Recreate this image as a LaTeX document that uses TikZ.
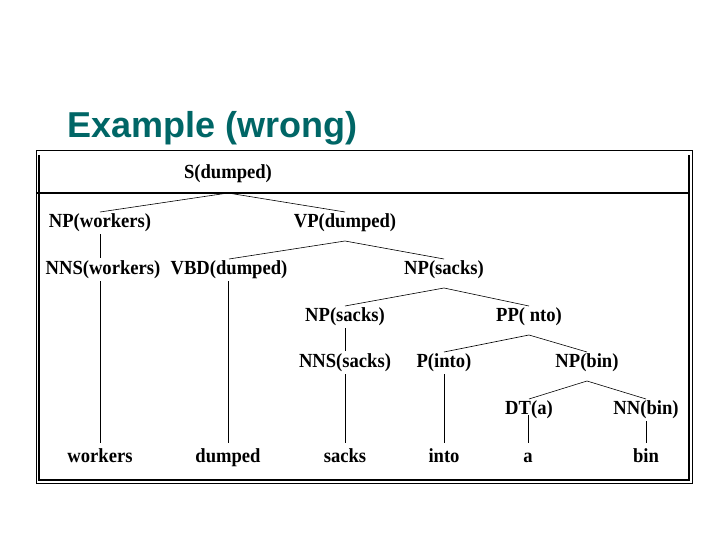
\documentclass[tikz,border=0pt]{standalone}
\usepackage{fontspec}
\setmainfont{Liberation Serif}
\newfontfamily\treefont[FakeStretch=0.93]{Liberation Serif Bold}
\newfontfamily\titlefont{Liberation Sans}
\usetikzlibrary{calc}
\definecolor{titleteal}{RGB}{0,102,102}
\begin{document}
\begin{tikzpicture}[x=1pt,y=-1pt,
  lab/.style={font=\treefont\fontsize{20}{24}\selectfont, inner sep=0pt, anchor=base},
  edge/.style={line width=0.6pt},
  thinframe/.style={line width=0.9pt},
  thickframe/.style={line width=2.2pt}]
\useasboundingbox (0,0) rectangle (720,540);
\node[font=\titlefont\bfseries\fontsize{36}{40}\selectfont, text=titleteal, anchor=base west, inner sep=0pt] (title) at (67,138) {Example (wrong)};
% frame
\draw[thinframe] (36,150.5) rectangle (692,483);
\draw[thickframe] (39,155) -- (39,480) -- (689,480) -- (689,155);
\draw[thickframe] (36,193) -- (688,193);
% nodes
\node[lab] (S) at (228,179) {S(dumped)};
\node[lab] (NPw) at (100,227) {NP(workers)};
\node[lab] (VP) at (345,227) {VP(dumped)};
\node[lab] (NNSw) at (103,274) {NNS(workers)};
\node[lab] (VBD) at (229,274) {VBD(dumped)};
\node[lab] (NPs) at (444,274) {NP(sacks)};
\node[lab] (NPs2) at (345,321) {NP(sacks)};
\node[lab] (PP) at (529,321) {PP( nto)};
\node[lab] (NNSs) at (345,367) {NNS(sacks)};
\node[lab] (Pin) at (444,367) {P(into)};
\node[lab] (NPb) at (587,367) {NP(bin)};
\node[lab] (DT) at (529,414) {DT(a)};
\node[lab] (NN) at (646,414) {NN(bin)};
\node[lab] (w1) at (100,462) {workers};
\node[lab] (w2) at (228,462) {dumped};
\node[lab] (w3) at (345,462) {sacks};
\node[lab] (w4) at (444,462) {into};
\node[lab] (w5) at (528,462) {a};
\node[lab] (w6) at (646,462) {bin};
% branching edges
\draw[edge] ($(NPw.base)+(0,-15)$) -- ($(S.base)+(0,14)$) -- ($(VP.base)+(0,-15)$);
\draw[edge] ($(VBD.base)+(0,-15)$) -- ($(VP.base)+(0,14)$) -- ($(NPs.base)+(0,-15)$);
\draw[edge] ($(NPs2.base)+(0,-15)$) -- ($(NPs.base)+(0,14)$) -- ($(PP.base)+(0,-15)$);
\draw[edge] ($(Pin.base)+(0,-15)$) -- ($(PP.base)+(0,14)$) -- ($(NPb.base)+(0,-15)$);
\draw[edge] ($(DT.base)+(0,-15)$) -- ($(NPb.base)+(0,14)$) -- ($(NN.base)+(0,-15)$);
% unary edges
\draw[edge] ($(NPw.base)+(0,7)$) -- ($(NNSw.base)+(-3,-16)$);
\draw[edge] ($(NNSw.base)+(-3,7)$) -- ($(w1.base)+(0,-19)$);
\draw[edge] ($(VBD.base)+(-1,7)$) -- ($(w2.base)+(0,-19)$);
\draw[edge] ($(NPs2.base)+(0,7)$) -- ($(NNSs.base)+(0,-16)$);
\draw[edge] ($(NNSs.base)+(0,7)$) -- ($(w3.base)+(0,-19)$);
\draw[edge] ($(Pin.base)+(0,7)$) -- ($(w4.base)+(0,-19)$);
\draw[edge] ($(DT.base)+(-1,1)$) -- ($(w5.base)+(0,-19)$);
\draw[edge] ($(NN.base)+(0,7)$) -- ($(w6.base)+(0,-19)$);
\end{tikzpicture}
\end{document}
